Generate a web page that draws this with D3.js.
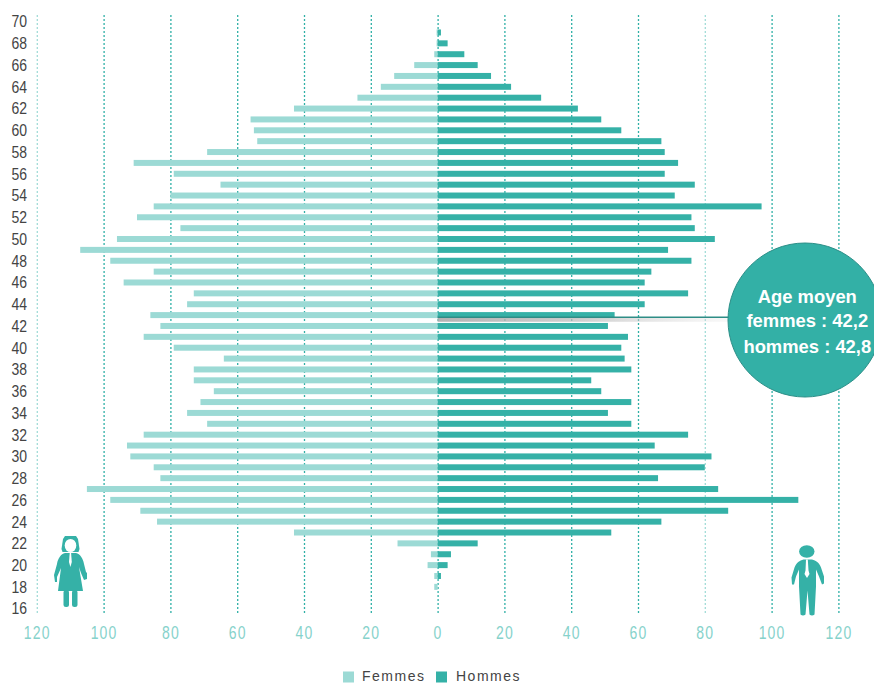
<!DOCTYPE html>
<html>
<head>
<meta charset="utf-8">
<script src="https://cdnjs.cloudflare.com/ajax/libs/d3/7.8.5/d3.min.js"></script>
<style>
  html, body { margin: 0; padding: 0; background: #fff; overflow: hidden; }
  svg { display: block; }
  text { font-family: "Liberation Sans", Arial, sans-serif; }
</style>
</head>
<body>
<div id="chart"></div>
<script>
// ages from 69 down to 18, one value per bar
var ages = [69,68,67,66,65,64,63,62,61,60,59,58,57,56,55,54,53,52,51,50,49,48,47,46,45,44,43,42,41,40,39,38,37,36,35,34,33,32,31,30,29,28,27,26,25,24,23,22,21,20,19,18];
var femmes = [0.3,0.3,1,7,13,17,24,43,56,55,54,69,91,79,65,80,85,90,77,96,107,98,85,94,73,75,86,83,88,79,64,73,73,67,71,75,69,88,93,92,85,83,105,98,89,84,43,12,2,3,1,1];
var hommes = [1,3,8,12,16,22,31,42,49,55,67,68,72,68,77,71,97,76,77,83,69,76,64,62,75,62,53,51,57,55,56,58,46,49,58,51,58,75,65,82,80,66,84,108,87,67,52,12,4,3,1,0];
var ageTicks = [16,18,20,22,24,26,28,30,32,34,36,38,40,42,44,46,48,50,52,54,56,58,60,62,64,66,68,70];
var valueTicks = [-120,-100,-80,-60,-40,-20,0,20,40,60,80,100,120];
var fadedTicks = [-120,80];
var seriesNames = ['Femmes','Hommes'];
var calloutAge = 42.8;
var calloutLines = ['Age moyen','femmes : 42,2','hommes : 42,8'];

var colF = '#9cdad5', colH = '#35b1a7', gridCol = '#2fb0a6';

var svg = d3.select('#chart').append('svg').attr('width',874).attr('height',684);

var xScale = d3.scaleLinear().domain([-120,120]).range([36.8,838.4]);
var yScale = d3.scaleLinear().domain([16,70]).range([608.6,21.6]);

// shadow under the callout line
var grad = svg.append('defs').append('linearGradient').attr('id','shadow');
grad.append('stop').attr('offset','0%').attr('stop-color','#aaa').attr('stop-opacity',0.9);
grad.append('stop').attr('offset','50%').attr('stop-color','#bbb').attr('stop-opacity',0.7);
grad.append('stop').attr('offset','100%').attr('stop-color','#ddd').attr('stop-opacity',0.2);

// vertical dotted grid + bottom labels
var xAxis = d3.axisBottom(xScale).tickValues(valueTicks).tickSize(600)
  .tickFormat(function(d){ return Math.abs(d) });
var gx = svg.append('g').attr('class','axis').attr('transform','translate(0,15)').call(xAxis);
gx.select('.domain').remove();
gx.selectAll('line')
  .attr('stroke',gridCol).attr('stroke-width',1.3).attr('stroke-dasharray','2,2')
  .attr('opacity',function(d){ return fadedTicks.indexOf(d) >= 0 ? 0.45 : 1 });
gx.selectAll('text')
  .attr('y',0).attr('dy',0)
  .attr('fill','#86d2cb').style('font-size','14px').style('letter-spacing','1.2px')
  .attr('transform','translate(0,623.5) scale(1,1.3)');

// left age labels
var yAxis = d3.axisLeft(yScale).tickValues(ageTicks).tickSize(0).tickPadding(0);
var gy = svg.append('g').attr('class','axis').attr('transform','translate(27,0)').call(yAxis);
gy.select('.domain').remove();
gy.selectAll('text')
  .attr('fill','#444').style('font-size','14px')
  .attr('transform','scale(1,1.2)');

var barH = 6;
svg.selectAll('.f').data(femmes).enter().append('rect').attr('class','f')
  .attr('x',function(d){ return xScale(-d) })
  .attr('y',function(d,i){ return yScale(ages[i]) - barH/2 })
  .attr('width',function(d){ return xScale(0) - xScale(-d) })
  .attr('height',barH)
  .style('fill',colF);
svg.selectAll('.h').data(hommes).enter().append('rect').attr('class','h')
  .attr('x',xScale(0))
  .attr('y',function(d,i){ return yScale(ages[i]) - barH/2 })
  .attr('width',function(d){ return xScale(d) - xScale(0) })
  .attr('height',barH)
  .style('fill',colH);

// callout
var cy = yScale(calloutAge);
svg.append('rect').attr('x',xScale(0)).attr('y',cy+0.5).attr('width',292).attr('height',4).attr('fill','url(#shadow)');
svg.append('line').attr('x1',xScale(0)).attr('x2',735).attr('y1',cy).attr('y2',cy)
  .attr('stroke','#2e8d86').attr('stroke-width',1.5);
svg.append('circle').attr('cx',805).attr('cy',320).attr('r',77)
  .attr('fill','#33b0a6').attr('stroke','#2d8f88').attr('stroke-width',1);
svg.selectAll('.call').data(calloutLines).enter().append('text').attr('class','call')
  .attr('x',807.3)
  .attr('y',function(d,i){ return [302.7,327,353][i] })
  .attr('text-anchor','middle').attr('fill','#fff')
  .style('font-size','18.4px').style('font-weight','bold')
  .text(function(d){ return d });

// legend
var legendX = [343,436], legendTx = [362,456];
seriesNames.forEach(function(name,i){
  svg.append('rect').attr('x',legendX[i]).attr('y',671.5).attr('width',11).attr('height',11)
    .attr('fill',i ? colH : colF);
  svg.append('text').attr('x',legendTx[i]).attr('y',680.5)
    .attr('fill','#444').style('font-size','14px').style('letter-spacing','1.5px')
    .text(name);
});

// woman icon
var woman = svg.append('g').attr('fill',colH);
woman.append('path').attr('d','M65 536h11l2 3 1.500 10-1 3h-16l-1-3 1.500-10z');
woman.append('ellipse').attr('cx',70.5).attr('cy',545.5).attr('rx',5.8).attr('ry',6.6).attr('fill','#fff');
woman.append('path').attr('d','M65 553h11c4 1 7 5 8 11l2 8 1 1v6l-3 1-3-7-2-6 4 24h-25l3-23-4 9v5h-2l-1-7 3-11c1-6 4-10 8-11z');
woman.append('rect').attr('x',63.5).attr('y',590).attr('width',5.5).attr('height',17).attr('rx',2.5);
woman.append('rect').attr('x',72).attr('y',590).attr('width',5.5).attr('height',17).attr('rx',2.5);
woman.append('path').attr('d','M69.700 553h1.400l.7 9-1.400 5-1.400-5z').attr('fill','#fff');

// man icon
var man = svg.append('g').attr('fill',colH);
man.append('ellipse').attr('cx',806.8).attr('cy',551.5).attr('rx',7.7).attr('ry',6.2);
man.append('path').attr('d','M802 559.500h10c4 1 7 3 9 8l3 9v7l-2 1-3-8-3-7v17l-1.500 28q-2.500 2-5 0l-2-24-2 24q-2.500 2-5 0l-1.500-28v-17l-3 7-2 8h-2l-.5-7 3-10c2-5 5-7 9-8z');
man.append('path').attr('d','M806 559.500h1.800l.7 11 1 3.500-2.500 4-2.500-4 1-3.500z').attr('fill','#fff');
</script>
</body>
</html>
